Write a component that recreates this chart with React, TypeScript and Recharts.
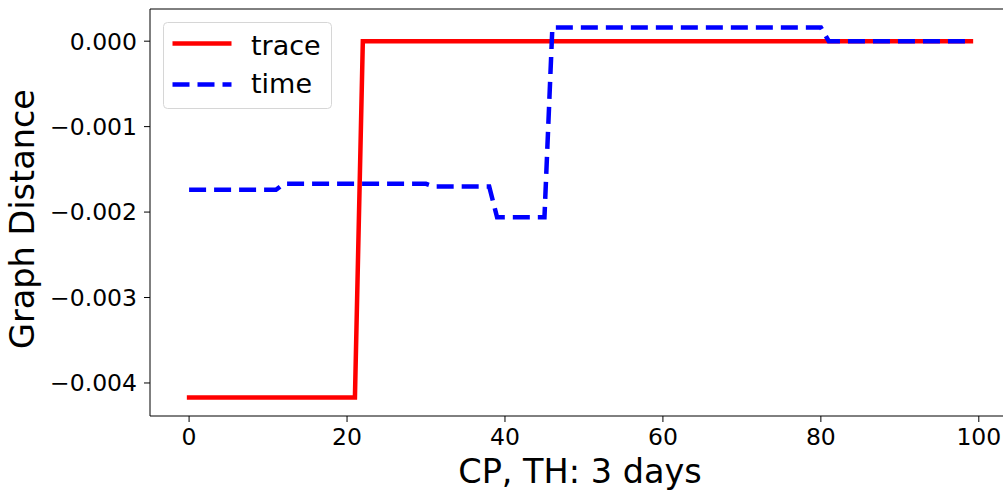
import React from "react";
import { LineChart, Line, XAxis, YAxis, Label, Legend } from "recharts";

// x positions (0..99) shared by both series
const steps = Array.from({ length: 100 }, (_, i) => i);

const traceValues = [
  -0.00417, -0.00417, -0.00417, -0.00417, -0.00417, -0.00417, -0.00417, -0.00417, -0.00417, -0.00417,
  -0.00417, -0.00417, -0.00417, -0.00417, -0.00417, -0.00417, -0.00417, -0.00417, -0.00417, -0.00417,
  -0.00417, -0.00417, 0, 0, 0, 0, 0, 0, 0, 0,
  0, 0, 0, 0, 0, 0, 0, 0, 0, 0,
  0, 0, 0, 0, 0, 0, 0, 0, 0, 0,
  0, 0, 0, 0, 0, 0, 0, 0, 0, 0,
  0, 0, 0, 0, 0, 0, 0, 0, 0, 0,
  0, 0, 0, 0, 0, 0, 0, 0, 0, 0,
  0, 0, 0, 0, 0, 0, 0, 0, 0, 0,
  0, 0, 0, 0, 0, 0, 0, 0, 0, 0,
];

const timeValues = [
  -0.00174, -0.00174, -0.00174, -0.00174, -0.00174, -0.00174, -0.00174, -0.00174, -0.00174, -0.00174,
  -0.00174, -0.00174, -0.00167, -0.00167, -0.00167, -0.00167, -0.00167, -0.00167, -0.00167, -0.00167,
  -0.00167, -0.00167, -0.00167, -0.00167, -0.00167, -0.00167, -0.00167, -0.00167, -0.00167, -0.00167,
  -0.00167, -0.0017, -0.0017, -0.0017, -0.0017, -0.0017, -0.0017, -0.0017, -0.0017, -0.00206,
  -0.00206, -0.00206, -0.00206, -0.00206, -0.00206, -0.00206, 0.00016, 0.00016, 0.00016, 0.00016,
  0.00016, 0.00016, 0.00016, 0.00016, 0.00016, 0.00016, 0.00016, 0.00016, 0.00016, 0.00016,
  0.00016, 0.00016, 0.00016, 0.00016, 0.00016, 0.00016, 0.00016, 0.00016, 0.00016, 0.00016,
  0.00016, 0.00016, 0.00016, 0.00016, 0.00016, 0.00016, 0.00016, 0.00016, 0.00016, 0.00016,
  0.00016, 0, 0, 0, 0, 0, 0, 0, 0, 0,
  0, 0, 0, 0, 0, 0, 0, 0, 0, 0,
];

const xTicks = [0, 20, 40, 60, 80, 100];
const yTicks = [-0.004, -0.003, -0.002, -0.001, 0];

const data = steps.map((x, i) => ({ x, trace: traceValues[i], time: timeValues[i] }));

const FONT = "DejaVu Sans, sans-serif";

const formatY = (v: number) => (v === 0 ? "0.000" : "\u2212" + Math.abs(v).toFixed(3));

function LegendBox() {
  return (
    <svg width={172} height={90} style={{ display: "block" }}>
      <rect x={0.5} y={0.5} width={168} height={86} rx={4} fill="#fff" fillOpacity={0.8} stroke="#d6d6d6" />
      <line x1={9.5} x2={68.5} y1={21.5} y2={21.5} stroke="#ff0000" strokeWidth={4.5} />
      <text x={88} y={32.5} fontFamily={FONT} fontSize={27} fill="#000">trace</text>
      <line x1={9.5} x2={68.5} y1={62.5} y2={62.5} stroke="#0000ff" strokeWidth={4.5} strokeDasharray="17 8" />
      <text x={88} y={70.5} fontFamily={FONT} fontSize={27} fill="#000">time</text>
    </svg>
  );
}

export default function App() {
  return (
    <div style={{ position: "absolute", left: 0, top: 0, width: 1003, height: 491, overflow: "hidden", background: "#fff" }}>
      <LineChart width={1012} height={491} data={data} margin={{ top: 8, right: 2, left: 0, bottom: 0 }}>
        <XAxis
          dataKey="x"
          type="number"
          domain={[-4.95, 103.95]}
          ticks={xTicks}
          allowDataOverflow
          height={75}
          tickSize={6}
          tickMargin={6}
          stroke="#000"
          tick={{ fill: "#000", fontSize: 23.5, fontFamily: FONT }}
        >
          <Label value="CP, TH: 3 days" position="insideBottom" offset={8} fill="#000" fontSize={33.5} fontFamily={FONT} />
        </XAxis>
        <XAxis xAxisId="top" orientation="top" dataKey="x" type="number" domain={[-4.95, 103.95]} height={1} tick={false} tickLine={false} stroke="#000" />
        <YAxis
          type="number"
          domain={[-0.0043865, 0.0003765]}
          ticks={yTicks}
          allowDataOverflow
          width={150}
          tickSize={6}
          tickMargin={7}
          tickFormatter={formatY}
          stroke="#000"
          tick={{ fill: "#000", fontSize: 23.5, fontFamily: FONT }}
        >
          <Label
            content={() => (
              <text x={34} y={219} transform="rotate(-90 34 219)" textAnchor="middle" fontFamily={FONT} fontSize={33.5} fill="#000">
                Graph Distance
              </text>
            )}
          />
        </YAxis>
        <Legend
          layout="horizontal"
          verticalAlign="middle"
          wrapperStyle={{ position: "absolute", left: 163, top: 22, width: 172, height: 90 }}
          content={() => <LegendBox />}
        />
        <Line type="linear" dataKey="trace" xAxisId={0} stroke="#ff0000" strokeWidth={4.5} strokeLinecap="square" dot={false} isAnimationActive={false} />
        <Line type="linear" dataKey="time" xAxisId={0} stroke="#0000ff" strokeWidth={4.5} strokeDasharray="17 8" dot={false} isAnimationActive={false} />
      </LineChart>
    </div>
  );
}
